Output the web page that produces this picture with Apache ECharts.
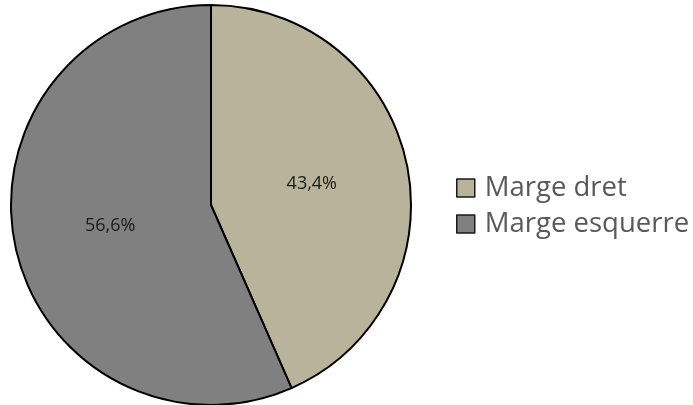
<!DOCTYPE html>
<html>
<head>
<meta charset="utf-8">
<script src="https://cdn.jsdelivr.net/npm/echarts@6/dist/echarts.min.js"></script>
<style>
html, body { margin: 0; padding: 0; background: #fff; }
#main { width: 693px; height: 405px; }
</style>
</head>
<body>
<div id="main"></div>
<script>
var categories = ['Marge dret', 'Marge esquerre'];
var values = [43.4, 56.6];
var colors = ['#BAB39C', '#808080'];

var chart = echarts.init(document.getElementById('main'));

var option = {
    animation: false,
    legend: {
        orient: 'vertical',
        left: 456,
        top: 173,
        padding: 0,
        icon: 'rect',
        itemWidth: 18,
        itemHeight: 18,
        itemGap: 6,
        itemStyle: { borderColor: '#1a1a1a', borderWidth: 1.5 },
        textStyle: { fontSize: 27.5, lineHeight: 30, color: '#595959', fontFamily: 'Open Sans', padding: [0, 0, 0, 5] },
        data: categories
    },
    series: [
        {
            type: 'pie',
            center: [211, 205],
            radius: [0, 200],
            startAngle: 90,
            clockwise: true,
            itemStyle: { borderColor: '#000', borderWidth: 2 },
            label: {
                position: 'inner',
                fontSize: 18,
                color: '#1a1a1a',
                fontFamily: 'Open Sans',
                formatter: function (p) { return p.value.toFixed(1).replace('.', ',') + '%'; }
            },
            labelLine: { show: false },
            data: categories.map(function (c, i) {
                return { name: c, value: values[i], itemStyle: { color: colors[i] } };
            })
        }
    ]
};
chart.setOption(option);
</script>
</body>
</html>
